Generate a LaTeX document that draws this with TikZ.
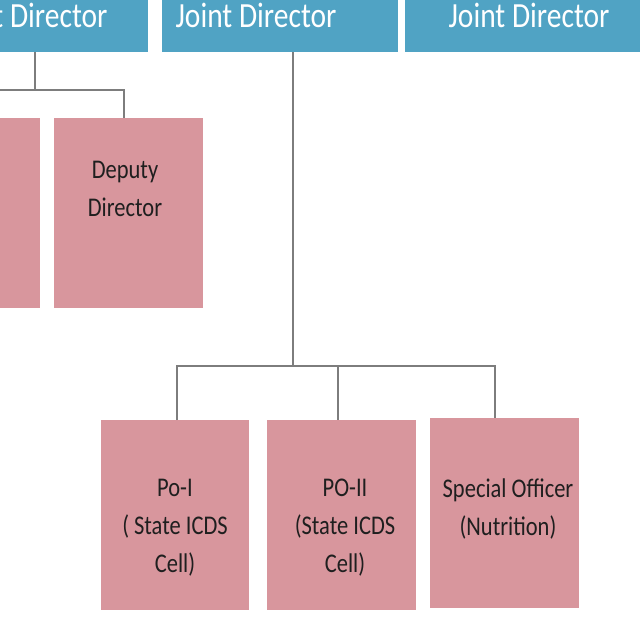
\documentclass[tikz,border=0pt]{standalone}
\usepackage{fontspec}
\usepackage{graphicx}
\setmainfont{Carlito}
\newcommand{\tallt}[1]{\scalebox{1}[1.2]{#1}}
\begin{document}
\begin{tikzpicture}[x=1pt,y=-1pt,
  bluebox/.style={fill=blueC, draw=none},
  pinkbox/.style={fill=pinkC, draw=none},
  toptext/.style={text=white, font=\fontsize{29.5}{32}\selectfont},
  boxtext/.style={text=black!88, font=\fontsize{22.5}{38}\selectfont, align=center},
  conn/.style={draw=lineC, line width=1.4pt}]
\definecolor{blueC}{RGB}{80,163,196}
\definecolor{pinkC}{RGB}{216,150,157}
\definecolor{lineC}{RGB}{125,125,125}
\useasboundingbox (0,0) rectangle (640,640);
\clip (0,0) rectangle (640,640);
\fill[white] (0,0) rectangle (640,640);
% top boxes
\path[bluebox] (-150,-10) rectangle (148,52);
\path[bluebox] (162,-10) rectangle (398,52);
\path[bluebox] (405,-10) rectangle (650,52);
\node[toptext, anchor=east] (jd1) at (111,15) {\tallt{Joint Director}};
\node[toptext] (jd2) at (256,15) {\tallt{Joint Director}};
\node[toptext] (jd3) at (529,15) {\tallt{Joint Director}};
\coordinate (b1) at (35,52);
\coordinate (b2) at (293,52);
% second row
\path[pinkbox] (-120,118) rectangle (40,308);
\path[pinkbox] (54,118) rectangle (203,308);
\node[boxtext] (dd) at (125,189) {\tallt{Deputy}\\\tallt{Director}};
% bottom row
\path[pinkbox] (101,420) rectangle (249,610);
\path[pinkbox] (267,420) rectangle (416,610);
\path[pinkbox] (430,418) rectangle (579,608);
\node[boxtext] (p1) at (175,528) {\tallt{Po-I}\\\tallt{( State ICDS}\\\tallt{Cell)}};
\node[boxtext] (p2) at (345,528) {\tallt{PO-II}\\\tallt{(State ICDS}\\\tallt{Cell)}};
\node[boxtext] (so) at (508,509) {\tallt{Special Officer}\\\tallt{(Nutrition)}};
% connectors
\draw[conn] (b1) -- (35,90) -- (124,90) -- (124,118);
\draw[conn] (35,90) -- (-20,90);
\draw[conn] (b2) -- (293,366);
\draw[conn] (177,420) -- (177,366) -- (495,366) -- (495,418);
\draw[conn] (338,366) -- (338,420);
\end{tikzpicture}
\end{document}
